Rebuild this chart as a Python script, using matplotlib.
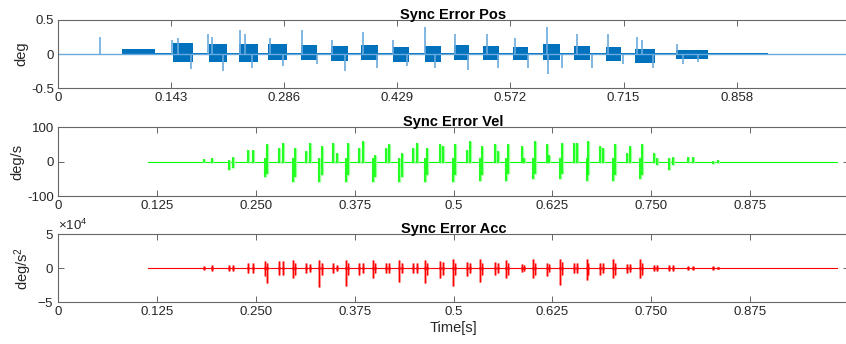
import matplotlib
matplotlib.use("Agg")
import matplotlib.pyplot as plt
from matplotlib.ticker import ScalarFormatter

plt.rcParams['font.family'] = ['Liberation Sans', 'DejaVu Sans']
plt.rcParams['axes.unicode_minus'] = False
plt.rcParams['mathtext.fontset'] = 'custom'
plt.rcParams['mathtext.rm'] = 'Liberation Sans'
plt.rcParams['mathtext.it'] = 'Liberation Sans:italic'

# ---- position error: time span, noisy bursts (start, end, band) and spikes
pos_span = [0.0, 1.0]
pos_zero = [0.0, 0.0]
pos_burst_start = [0.081, 0.145, 0.191, 0.229, 0.266, 0.307, 0.345, 0.383, 0.423,
                   0.464, 0.500, 0.537, 0.575, 0.613, 0.652, 0.693, 0.730, 0.781, 0.824]
pos_burst_end = [0.123, 0.171, 0.213, 0.253, 0.289, 0.328, 0.366, 0.404, 0.444,
                 0.484, 0.520, 0.557, 0.594, 0.634, 0.673, 0.712, 0.755, 0.822, 0.897]
pos_burst_hi = [0.07, 0.16, 0.14, 0.14, 0.14, 0.13, 0.12, 0.13, 0.11,
                0.12, 0.13, 0.12, 0.11, 0.15, 0.12, 0.11, 0.08, 0.06, 0.015]
pos_burst_lo = [-0.02, -0.12, -0.11, -0.12, -0.09, -0.09, -0.10, -0.09, -0.11,
                -0.11, -0.09, -0.09, -0.09, -0.09, -0.09, -0.10, -0.13, -0.08, -0.01]
pos_noise_span = [0.09, 0.83]
pos_noise_hi = 0.022
pos_noise_lo = -0.018
pos_spike_t = [0.053, 0.144, 0.152, 0.168, 0.190, 0.195, 0.209, 0.230, 0.236, 0.245,
               0.268, 0.284, 0.308, 0.327, 0.346, 0.363, 0.386, 0.403, 0.424, 0.441,
               0.464, 0.477, 0.502, 0.518, 0.542, 0.556, 0.578, 0.594, 0.618, 0.619,
               0.637, 0.656, 0.675, 0.695, 0.714, 0.732, 0.738, 0.752, 0.783, 0.790, 0.809]
pos_spike_v = [0.25, 0.20, 0.24, -0.22, 0.30, 0.25, -0.25, 0.35, 0.30, -0.20,
               0.23, -0.17, 0.35, -0.15, 0.20, -0.25, 0.33, -0.20, 0.20, -0.18,
               0.39, -0.20, 0.30, -0.23, 0.30, -0.20, 0.24, -0.20, 0.39, -0.29,
               -0.20, 0.30, -0.20, 0.30, -0.15, 0.25, 0.20, -0.20, 0.15, -0.14, -0.12]

# ---- velocity / acceleration error events
sig_span = [0.114, 0.985]
sig_zero = [0.0, 0.0]
ev_t = [0.185, 0.195, 0.216, 0.221, 0.240, 0.247, 0.262, 0.264, 0.279, 0.284,
        0.297, 0.300, 0.314, 0.319, 0.330, 0.334, 0.348, 0.353, 0.364, 0.367,
        0.381, 0.386, 0.398, 0.401, 0.415, 0.418, 0.431, 0.435, 0.449, 0.454,
        0.464, 0.466, 0.483, 0.487, 0.499, 0.502, 0.517, 0.521, 0.534, 0.536,
        0.552, 0.556, 0.566, 0.569, 0.587, 0.589, 0.601, 0.603, 0.618, 0.621,
        0.635, 0.637, 0.652, 0.656, 0.669, 0.670, 0.685, 0.689, 0.702, 0.704,
        0.719, 0.723, 0.736, 0.738, 0.753, 0.757, 0.772, 0.777, 0.796, 0.803,
        0.828, 0.834]
vel_hi = [8, 12, 5, 15, 35, 35, 10, 50, 40, 55,
          10, 40, 30, 55, 10, 45, 55, 25, 10, 55,
          40, 60, 10, 20, 40, 50, 10, 25, 40, 55,
          10, 40, 50, 45, 10, 50, 35, 60, 10, 45,
          50, 30, 10, 50, 45, 10, 10, 60, 50, 20,
          10, 55, 55, 55, 10, 60, 45, 40, 10, 50,
          25, 45, 10, 50, 25, 10, 10, 15, 15, 15,
          3, 5]
vel_lo = [-2, -3, -25, -18, -5, -5, -45, -35, -5, -5,
          -60, -45, -5, -5, -60, -40, -5, -5, -60, -40,
          -5, -5, -60, -45, -5, -5, -60, -45, -5, -5,
          -60, -40, -5, -5, -60, -40, -5, -5, -55, -40,
          -5, -5, -55, -35, -5, -5, -50, -35, -5, -5,
          -50, -35, -5, -5, -55, -40, -5, -5, -55, -40,
          -5, -5, -50, -40, -5, -10, -25, -10, -3, -3,
          -8, -3]
acc_hi = [0.3e4, 0.4e4, 0.5e4, 0.5e4, 0.8e4, 0.8e4, 1.0e4, 0.8e4, 1.0e4, 1.0e4,
          1.2e4, 0.8e4, 0.8e4, 0.6e4, 1.2e4, 0.8e4, 0.8e4, 0.5e4, 1.2e4, 0.8e4,
          0.8e4, 0.8e4, 1.2e4, 0.7e4, 0.7e4, 0.7e4, 1.1e4, 0.7e4, 0.8e4, 0.8e4,
          1.2e4, 0.8e4, 1.0e4, 0.9e4, 1.3e4, 0.8e4, 0.9e4, 0.8e4, 1.3e4, 0.8e4,
          0.9e4, 0.7e4, 1.2e4, 0.8e4, 0.6e4, 0.4e4, 1.3e4, 0.8e4, 0.7e4, 0.6e4,
          1.3e4, 0.9e4, 0.7e4, 0.7e4, 1.3e4, 0.8e4, 0.8e4, 0.7e4, 1.3e4, 0.8e4,
          0.6e4, 0.6e4, 1.3e4, 0.8e4, 0.5e4, 0.4e4, 0.5e4, 0.4e4, 0.3e4, 0.3e4,
          0.3e4, 0.2e4]
acc_lo = [-0.3e4, -0.4e4, -0.5e4, -0.5e4, -0.8e4, -0.8e4, -1.2e4, -2.2e4, -1.0e4, -1.0e4,
          -1.5e4, -1.0e4, -0.8e4, -0.6e4, -2.8e4, -1.0e4, -0.8e4, -0.5e4, -2.7e4, -1.0e4,
          -1.0e4, -0.8e4, -1.5e4, -0.8e4, -0.7e4, -0.7e4, -2.0e4, -0.8e4, -0.8e4, -0.8e4,
          -2.2e4, -1.0e4, -1.5e4, -1.0e4, -2.7e4, -1.0e4, -1.2e4, -0.8e4, -2.0e4, -1.0e4,
          -1.0e4, -0.7e4, -1.5e4, -1.0e4, -0.6e4, -0.4e4, -1.5e4, -1.0e4, -1.2e4, -0.6e4,
          -2.5e4, -1.0e4, -0.7e4, -0.7e4, -1.8e4, -1.0e4, -1.0e4, -0.7e4, -1.5e4, -1.0e4,
          -0.8e4, -0.6e4, -1.5e4, -1.0e4, -0.5e4, -0.4e4, -0.5e4, -0.4e4, -0.3e4, -0.3e4,
          -0.3e4, -0.2e4]
acc_core = 0.15e4

pos_ticks = [0, 0.143, 0.286, 0.429, 0.572, 0.715, 0.858]
pos_ticklabels = ['0', '0.143', '0.286', '0.429', '0.572', '0.715', '0.858']
sig_ticks = [0, 0.125, 0.25, 0.375, 0.5, 0.625, 0.75, 0.875]
sig_ticklabels = ['0', '0.125', '0.250', '0.375', '0.5', '0.625', '0.750', '0.875']

BLUE = '#0072BD'
LBLUE = '#6AAADC'
GREEN = '#00FF00'
LGREEN = '#9CFF9C'
RED = '#FF0000'
LRED = '#FF9C9C'
AXC = '#666666'
TXT = '#262626'

fig = plt.figure(figsize=(8.46, 3.44), dpi=100)
ax1 = fig.add_axes([0.0686, 0.744, 0.935, 0.198])
ax2 = fig.add_axes([0.0686, 0.430, 0.935, 0.200])
ax3 = fig.add_axes([0.0686, 0.122, 0.935, 0.198])


def style(ax, ticks, labels):
    ax.set_xlim(0, 1)
    ax.set_xticks(ticks)
    ax.set_xticklabels(labels)
    ax.tick_params(direction='in', top=True, right=True, length=4, width=0.7,
                   color=AXC, labelcolor=TXT, labelsize=9.5, pad=3)
    for sp in ax.spines.values():
        sp.set_color(AXC)
        sp.set_linewidth(0.8)


# Sync Error Pos
ax1.plot(pos_span, pos_zero, color=LBLUE, lw=1.0)
ax1.vlines(pos_spike_t, 0, pos_spike_v, color=LBLUE, lw=1.2)
ax1.fill_between(pos_noise_span, pos_noise_lo, pos_noise_hi, color=BLUE, lw=0)
for s, e, hi, lo in zip(pos_burst_start, pos_burst_end, pos_burst_hi, pos_burst_lo):
    ax1.fill_between([s, e], lo, hi, color=BLUE, lw=0)
ax1.set_ylim(-0.5, 0.5)
ax1.set_yticks([-0.5, 0, 0.5])
ax1.set_yticklabels(['-0.5', '0', '0.5'])
style(ax1, pos_ticks, pos_ticklabels)
ax1.set_ylabel('deg', fontsize=10.5, color=TXT, labelpad=2)
ax1.set_title('Sync Error Pos', fontsize=10.5, fontweight='bold', pad=1)

# Sync Error Vel
ax2.plot(sig_span, sig_zero, color=GREEN, lw=0.8)
ax2.vlines(ev_t, vel_lo, vel_hi, color=LGREEN, lw=2.4)
ax2.vlines(ev_t, vel_lo, vel_hi, color=GREEN, lw=1.1)
ax2.set_ylim(-100, 100)
ax2.set_yticks([-100, 0, 100])
style(ax2, sig_ticks, sig_ticklabels)
ax2.set_ylabel('deg/s', fontsize=10.5, color=TXT, labelpad=2)
ax2.set_title('Sync Error Vel', fontsize=10.5, fontweight='bold', pad=1)

# Sync Error Acc
ax3.plot(sig_span, sig_zero, color=RED, lw=0.8)
ax3.vlines(ev_t, acc_lo, acc_hi, color=LRED, lw=2.0)
ax3.vlines(ev_t, acc_lo, acc_hi, color=RED, lw=0.9)
ax3.vlines(ev_t, -acc_core, acc_core, color=RED, lw=2.0)
ax3.set_ylim(-5e4, 5e4)
ax3.set_yticks([-5e4, 0, 5e4])
fmt = ScalarFormatter(useMathText=True)
fmt.set_powerlimits((0, 0))
ax3.yaxis.set_major_formatter(fmt)
style(ax3, sig_ticks, sig_ticklabels)
ax3.yaxis.get_offset_text().set_fontsize(9.5)
ax3.yaxis.get_offset_text().set_color(TXT)
ax3.set_ylabel('deg/s$^2$', fontsize=10.5, color=TXT, labelpad=2)
ax3.set_xlabel('Time[s]', fontsize=10.5, color=TXT, labelpad=2)
ax3.set_title('Sync Error Acc', fontsize=10.5, fontweight='bold', pad=1)

fig.savefig('out.png', dpi=100)
